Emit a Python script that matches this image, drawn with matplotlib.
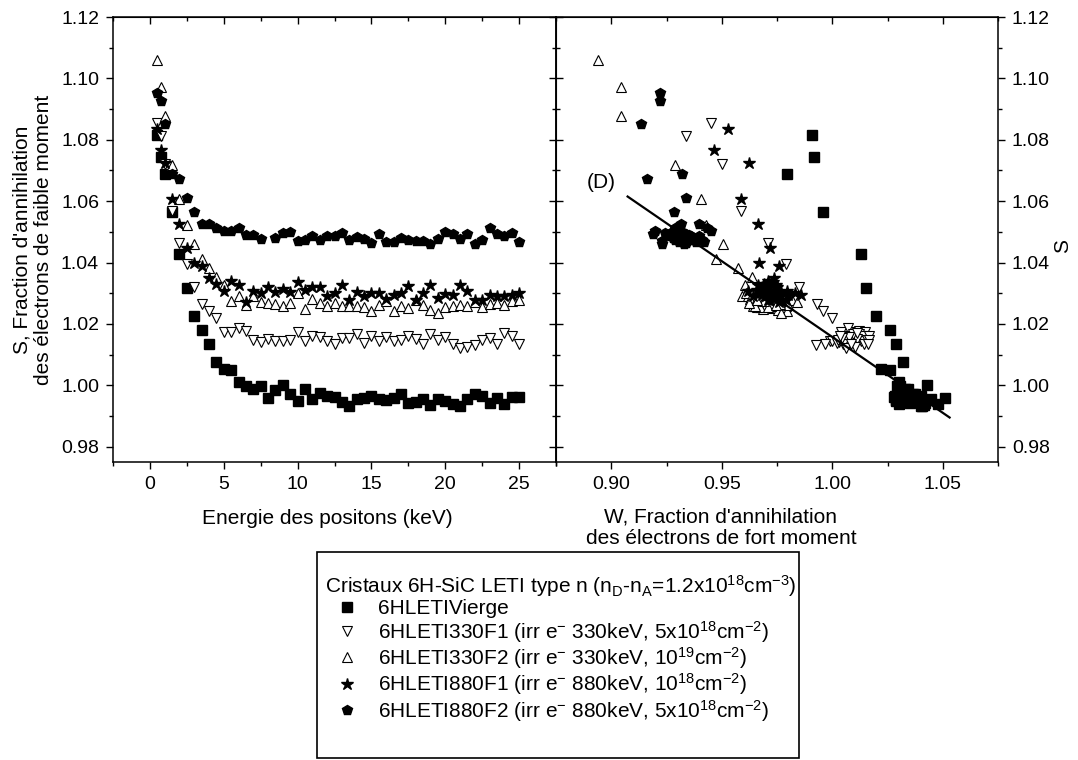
import matplotlib
matplotlib.use("Agg")
import numpy as np
import matplotlib.pyplot as plt
from matplotlib.ticker import MultipleLocator, FormatStrFormatter
from matplotlib.patches import Rectangle

plt.rcParams["font.family"] = ["Liberation Sans", "DejaVu Sans"]
plt.rcParams["mathtext.fontset"] = "custom"
plt.rcParams["mathtext.rm"] = "Liberation Sans"
plt.rcParams["mathtext.it"] = "Liberation Sans:italic"
plt.rcParams["mathtext.bf"] = "Liberation Sans:bold"

# Energie des positons (keV)
energy = [0.5, 0.75, 1.0, 1.5, 2.0, 2.5, 3.0, 3.5, 4.0, 4.5, 5.0, 5.5, 6.0, 6.5,
          7.0, 7.5, 8.0, 8.5, 9.0, 9.5, 10.0, 10.5, 11.0, 11.5, 12.0, 12.5, 13.0,
          13.5, 14.0, 14.5, 15.0, 15.5, 16.0, 16.5, 17.0, 17.5, 18.0, 18.5, 19.0,
          19.5, 20.0, 20.5, 21.0, 21.5, 22.0, 22.5, 23.0, 23.5, 24.0, 24.5, 25.0]

# S values
s_vierge = [1.0815, 1.0745, 1.0689, 1.0565, 1.0428, 1.0318, 1.0227, 1.0180, 1.0135,
            1.0077, 1.0053, 1.0049, 1.0010, 0.9999, 0.9989, 0.9999, 0.9958, 0.9986,
            1.0001, 0.9972, 0.9948, 0.9987, 0.9954, 0.9975, 0.9964, 0.9962, 0.9946,
            0.9931, 0.9956, 0.9960, 0.9966, 0.9955, 0.9952, 0.9960, 0.9971, 0.9942,
            0.9947, 0.9954, 0.9937, 0.9956, 0.9950, 0.9940, 0.9932, 0.9956, 0.9971,
            0.9965, 0.9942, 0.9960, 0.9939, 0.9962, 0.9962]
s_330f1 = [1.0853, 1.0811, 1.0722, 1.0567, 1.0463, 1.0396, 1.0321, 1.0265, 1.0243,
           1.0219, 1.0173, 1.0173, 1.0186, 1.0176, 1.0148, 1.0142, 1.0150, 1.0145,
           1.0143, 1.0147, 1.0174, 1.0145, 1.0162, 1.0156, 1.0145, 1.0136, 1.0154,
           1.0154, 1.0167, 1.0139, 1.0161, 1.0145, 1.0156, 1.0143, 1.0148, 1.0161,
           1.0152, 1.0134, 1.0167, 1.0148, 1.0158, 1.0136, 1.0123, 1.0125, 1.0130,
           1.0147, 1.0154, 1.0134, 1.0171, 1.0161, 1.0134]
s_330f2 = [1.1059, 1.0972, 1.0876, 1.0718, 1.0608, 1.0521, 1.0461, 1.0412, 1.0381,
           1.0352, 1.0328, 1.0273, 1.0290, 1.0263, 1.0292, 1.0270, 1.0269, 1.0266,
           1.0259, 1.0269, 1.0301, 1.0248, 1.0282, 1.0267, 1.0257, 1.0268, 1.0257,
           1.0259, 1.0257, 1.0254, 1.0243, 1.0263, 1.0275, 1.0241, 1.0259, 1.0251,
           1.0278, 1.0263, 1.0245, 1.0235, 1.0254, 1.0257, 1.0261, 1.0257, 1.0270,
           1.0254, 1.0266, 1.0268, 1.0263, 1.0273, 1.0279]
s_880f1 = [1.0836, 1.0767, 1.0723, 1.0606, 1.0527, 1.0448, 1.0400, 1.0390, 1.0351,
           1.0331, 1.0307, 1.0339, 1.0328, 1.0272, 1.0307, 1.0300, 1.0320, 1.0305,
           1.0313, 1.0303, 1.0338, 1.0311, 1.0320, 1.0320, 1.0290, 1.0301, 1.0327,
           1.0278, 1.0305, 1.0290, 1.0302, 1.0301, 1.0281, 1.0293, 1.0301, 1.0323,
           1.0277, 1.0302, 1.0326, 1.0285, 1.0296, 1.0293, 1.0326, 1.0307, 1.0279,
           1.0279, 1.0293, 1.0290, 1.0290, 1.0295, 1.0301]
s_880f2 = [1.0951, 1.0927, 1.0852, 1.0687, 1.0672, 1.0609, 1.0565, 1.0524, 1.0526,
           1.0511, 1.0502, 1.0503, 1.0511, 1.0491, 1.0491, 1.0477, np.nan, 1.0481,
           1.0497, 1.0500, 1.0469, 1.0472, 1.0488, 1.0472, 1.0488, 1.0486, 1.0495,
           1.0472, 1.0484, 1.0476, 1.0465, 1.0494, 1.0466, 1.0466, 1.0480, 1.0472,
           1.0470, 1.0469, 1.0461, 1.0476, 1.0500, 1.0493, 1.0476, 1.0493, 1.0461,
           1.0472, 1.0513, 1.0494, 1.0486, 1.0497, 1.0467]

# W values
w_vierge = [0.9908, 0.9917, 0.9793, 0.9956, 1.0130, 1.0152, 1.0200, 1.0262, 1.0290,
            1.0318, 1.0220, 1.0260, 1.0300, 1.0305, 1.0330, 1.0295, 1.0340, 1.0320,
            1.0430, 1.0310, 1.0290, 1.0345, 1.0300, 1.0325, 1.0285, 1.0355, 1.0370,
            1.0400, 1.0330, 1.0380, 1.0310, 1.0395, 1.0290, 1.0305, 1.0375, 1.0350,
            1.0310, 1.0360, 1.0415, 1.0340, 1.0390, 1.0300, 1.0405, 1.0445, 1.0365,
            1.0400, 1.0420, 1.0510, 1.0480, 1.0335, 1.0280]
w_330f1 = [0.9452, 0.9340, 0.9500, 0.9588, 0.9708, 0.9792, 0.9850, 0.9931, 0.9960,
           0.9997, 1.0040, 1.0100, 1.0070, 1.0120, 1.0060, 1.0030, 1.0090, 0.9990,
           1.0050, 1.0110, 1.0150, 1.0000, 1.0080, 1.0130, 1.0070, 0.9965, 1.0100,
           1.0040, 1.0120, 1.0020, 1.0140, 1.0085, 1.0060, 1.0130, 1.0155, 1.0165,
           1.0110, 1.0050, 1.0095, 1.0025, 1.0075, 1.0145, 1.0060, 1.0105, 0.9925,
           1.0165, 1.0045, 1.0160, 1.0110, 1.0035, 1.0085]
w_330f2 = [0.8938, 0.9042, 0.9042, 0.9290, 0.9406, 0.9430, 0.9505, 0.9472, 0.9572,
           0.9637, 0.9606, 0.9640, 0.9590, 0.9655, 0.9620, 0.9700, 0.9680, 0.9665,
           0.9720, 0.9735, 0.9610, 0.9685, 0.9630, 0.9760, 0.9650, 0.9705, 0.9745,
           0.9670, 0.9790, 0.9660, 0.9780, 0.9690, 0.9715, 0.9795, 0.9640, 0.9730,
           0.9820, 0.9700, 0.9755, 0.9770, 0.9675, 0.9725, 0.9800, 0.9650, 0.9840,
           0.9710, 0.9765, 0.9625, 0.9745, 0.9690, 0.9660]
w_880f1 = [0.9529, 0.9467, 0.9623, 0.9588, 0.9665, 0.9718, 0.9670, 0.9758, 0.9736,
           0.9690, 0.9620, 0.9710, 0.9665, 0.9760, 0.9700, 0.9725, 0.9680, 0.9745,
           0.9690, 0.9770, 0.9730, 0.9660, 0.9715, 0.9750, 0.9740, 0.9685, 0.9700,
           0.9790, 0.9720, 0.9640, 0.9760, 0.9705, 0.9735, 0.9800, 0.9675, 0.9740,
           0.9715, 0.9830, 0.9690, 0.9755, 0.9720, 0.9680, 0.9745, 0.9795, 0.9770,
           0.9710, 0.9858, 0.9735, 0.9700, 0.9765, 0.9725]
w_880f2 = [0.9222, 0.9220, 0.9135, 0.9322, 0.9160, 0.9339, 0.9286, 0.9315, 0.9398,
           0.9434, 0.9452, 0.9198, 0.9300, 0.9260, 0.9350, 0.9330, np.nan, 0.9280,
           0.9245, 0.9320, 0.9228, 0.9365, 0.9300, 0.9340, 0.9270, 0.9395, 0.9310,
           0.9290, 0.9355, 0.9320, 0.9340, 0.9190, 0.9385, 0.9305, 0.9335, 0.9410,
           0.9345, 0.9325, 0.9228, 0.9370, 0.9275, 0.9315, 0.9350, 0.9330, 0.9330,
           0.9400, 0.9290, 0.9340, 0.9360, 0.9305, 0.9420]

# droite (D)
line_w = [0.9074, 1.0531]
line_s = [1.0615, 0.9895]

labels = [
    "6HLETIVierge",
    "6HLETI330F1 (irr e$^{-}$ 330keV, 5x10$^{18}$cm$^{-2}$)",
    "6HLETI330F2 (irr e$^{-}$ 330keV, 10$^{19}$cm$^{-2}$)",
    "6HLETI880F1 (irr e$^{-}$ 880keV, 10$^{18}$cm$^{-2}$)",
    "6HLETI880F2 (irr e$^{-}$ 880keV, 5x10$^{18}$cm$^{-2}$)",
]
legend_title = (r"Cristaux 6H-SiC LETI type n (n$_\mathrm{D}$-n$_\mathrm{A}$"
                r"=1.2x10$^{18}$cm$^{-3}$)")

series = [
    (s_vierge, w_vierge, dict(marker="s", ms=6.5, mfc="black", mec="black")),
    (s_330f1, w_330f1, dict(marker="v", ms=7, mfc="white", mec="black", mew=0.8)),
    (s_330f2, w_330f2, dict(marker="^", ms=7, mfc="white", mec="black", mew=0.8)),
    (s_880f1, w_880f1, dict(marker="*", ms=9, mfc="black", mec="black")),
    (s_880f2, w_880f2, dict(marker="p", ms=7.5, mfc="black", mec="black")),
]

W, H = 1078, 760
fs = 14        # tick labels
fl = 15        # axis titles / legend
fig = plt.figure(figsize=(W / 100, H / 100), dpi=100)
ax1 = fig.add_axes([113 / W, 1 - 462 / H, (556 - 113) / W, (462 - 17) / H])
ax2 = fig.add_axes([556 / W, 1 - 462 / H, (998 - 556) / W, (462 - 17) / H])

handles = []
for s_vals, w_vals, st in series:
    h, = ax1.plot(energy, s_vals, ls="none", **st)
    ax2.plot(w_vals, s_vals, ls="none", **st)
    handles.append(h)

ax2.plot(line_w, line_s, color="black", lw=1.6)
ax2.text(0.8954, 1.066, "(D)", fontsize=fl, ha="center", va="center")

for ax in (ax1, ax2):
    ax.set_ylim(0.975, 1.12)
    ax.yaxis.set_major_locator(MultipleLocator(0.02))
    ax.yaxis.set_minor_locator(MultipleLocator(0.01))
    ax.yaxis.set_major_formatter(FormatStrFormatter("%.2f"))
    for sp in ax.spines.values():
        sp.set_linewidth(1.1)

ax1.set_xlim(-2.5, 27.5)
ax1.xaxis.set_major_locator(MultipleLocator(5))
ax1.xaxis.set_minor_locator(MultipleLocator(2.5))
ax2.set_xlim(0.875, 1.075)
ax2.xaxis.set_major_locator(MultipleLocator(0.05))
ax2.xaxis.set_minor_locator(MultipleLocator(0.025))
ax2.xaxis.set_major_formatter(FormatStrFormatter("%.2f"))

for ax in (ax1, ax2):
    ax.tick_params(which="major", length=5, direction="out", width=1.0,
                   labelsize=fs, pad=5)
    ax.tick_params(which="minor", length=3, direction="out", width=1.0)
ax2.yaxis.tick_right()

# inward ticks on the opposite sides
for ax, xloc in ((ax1, 2.5), (ax2, 0.025)):
    top = ax.secondary_xaxis("top")
    top.xaxis.set_major_locator(MultipleLocator(xloc * 2))
    top.xaxis.set_minor_locator(MultipleLocator(xloc))
    top.tick_params(which="major", direction="in", length=5, width=1.0, labeltop=False)
    top.tick_params(which="minor", direction="in", length=3, width=1.0)
sec1 = ax1.secondary_yaxis("right")
sec2 = ax2.secondary_yaxis("left")
for sec in (sec1, sec2):
    sec.yaxis.set_major_locator(MultipleLocator(0.02))
    sec.yaxis.set_minor_locator(MultipleLocator(0.01))
    sec.tick_params(which="major", direction="in", length=5, width=1.0,
                    labelleft=False, labelright=False)
    sec.tick_params(which="minor", direction="in", length=3, width=1.0)

fig.text(327 / W, 1 - 518 / H, "Energie des positons (keV)", fontsize=fl,
         ha="center", va="center")
fig.text(721 / W, 1 - 528 / H,
         "W, Fraction d'annihilation\ndes électrons de fort moment",
         fontsize=fl, ha="center", va="center", linespacing=1.15)
fig.text(33 / W, 1 - 240 / H,
         "S, Fraction d'annihilation\ndes électrons de faible moment",
         fontsize=fl, ha="center", va="center", rotation=90, linespacing=1.15)
fig.text(1063 / W, 1 - 246 / H, "S", fontsize=fl, ha="center", va="center",
         rotation=90)

fig.add_artist(Rectangle((317 / W, 1 - 758 / H), (799 - 317) / W, (758 - 552) / H,
                         transform=fig.transFigure, fill=False,
                         edgecolor="black", lw=1.2))
fig.legend(handles=handles, labels=labels, title=legend_title,
           loc="upper left", bbox_to_anchor=(325 / W, 1 - 573 / H),
           frameon=False, alignment="left", fontsize=fl, title_fontsize=fl,
           handlelength=2.1, handletextpad=0.45, labelspacing=0.02,
           borderpad=0, borderaxespad=0, numpoints=1)

fig.savefig("out.png", dpi=100)
